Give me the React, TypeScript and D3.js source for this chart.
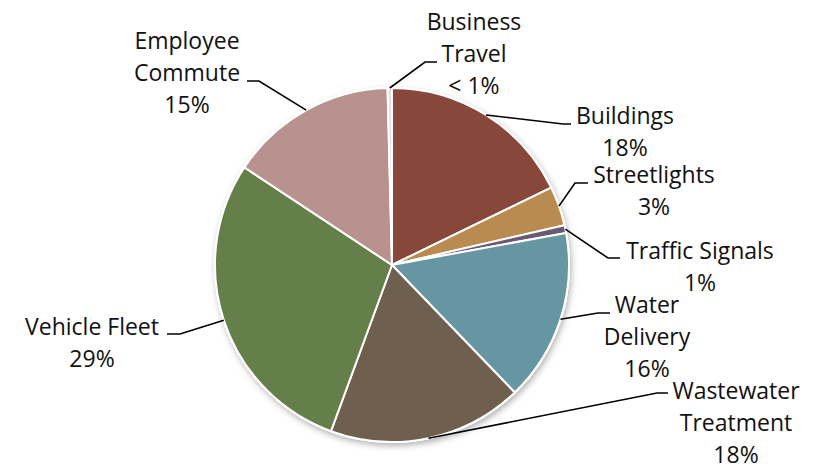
import React from "react";
import * as d3 from "d3";

const categories = [
  "Buildings",
  "Streetlights",
  "Traffic Signals",
  "Water Delivery",
  "Wastewater Treatment",
  "Vehicle Fleet",
  "Employee Commute",
  "Business Travel",
];
const values = [17.8, 3.6, 0.7, 15.7, 17.8, 28.7, 15.3, 0.4];
const labelLines = [
  ["Buildings", "18%"],
  ["Streetlights", "3%"],
  ["Traffic Signals", "1%"],
  ["Water", "Delivery", "16%"],
  ["Wastewater", "Treatment", "18%"],
  ["Vehicle Fleet", "29%"],
  ["Employee", "Commute", "15%"],
  ["Business", "Travel", "< 1%"],
];
const colors = [
  "#87473B",
  "#B98B51",
  "#6B5873",
  "#6696A1",
  "#6E5F4F",
  "#657F4B",
  "#B8928E",
  "#EADDDB",
];

// label layout: text center x, first baseline y, elbow point, leader end x
const layout = [
  { cx: 625, y0: 124, ex: 563, ey: 124, hx: 571 },
  { cx: 654, y0: 183, ex: 575, ey: 183, hx: 588 },
  { cx: 700, y0: 259, ex: 608, ey: 258, hx: 620 },
  { cx: 647, y0: 313, ex: 598, ey: 313, hx: 610 },
  { cx: 736, y0: 399, ex: 657, ey: 393, hx: 668 },
  { cx: 92, y0: 335, ex: 180, ey: 334, hx: 167 },
  { cx: 187, y0: 49, ex: 259, ey: 81, hx: 247 },
  { cx: 474, y0: 30, ex: 425, ey: 62, hx: 437 },
];

const W = 819;
const H = 466;
const CX = 392;
const CY = 265;
const R = 177;
const LINE_H = 32;

export default function App() {
  const pie = d3
    .pie<number>()
    .sort(null)
    .startAngle(0)
    .endAngle(2 * Math.PI)
    .value((d) => d);
  const arcs = pie(values);
  const arc = d3.arc<d3.PieArcDatum<number>>().innerRadius(0).outerRadius(R);

  return (
    <svg
      width={W}
      height={H}
      style={{ position: "absolute", left: 0, top: 0, background: "#fff" }}
      fontFamily="'Open Sans', 'Noto Sans', sans-serif"
    >
      <defs>
        <filter id="shadow" x="-20%" y="-20%" width="140%" height="140%">
          <feDropShadow dx="1.5" dy="3" stdDeviation="3" floodColor="#000" floodOpacity="0.3" />
        </filter>
      </defs>
      <g transform={`translate(${CX},${CY})`}>
        <circle r={R + 1} fill="#fff" filter="url(#shadow)" />
        {arcs.map((a, i) => (
          <path
            key={categories[i]}
            d={arc(a) || ""}
            fill={colors[i]}
            stroke="#fff"
            strokeWidth={2}
            strokeLinejoin="round"
          />
        ))}
      </g>
      {arcs.map((a, i) => {
        const mid = (a.startAngle + a.endAngle) / 2;
        const sx = CX + Math.sin(mid) * R;
        const sy = CY - Math.cos(mid) * R;
        const L = layout[i];
        return (
          <g key={"lbl" + i}>
            <polyline
              points={`${sx},${sy} ${L.ex},${L.ey} ${L.hx},${L.ey}`}
              fill="none"
              stroke="#000"
              strokeWidth={1.6}
            />
            {labelLines[i].map((t, j) => (
              <text
                key={j}
                x={L.cx}
                y={L.y0 + j * LINE_H}
                textAnchor="middle"
                fontSize={23}
                fill="#111"
              >
                {t}
              </text>
            ))}
          </g>
        );
      })}
    </svg>
  );
}
